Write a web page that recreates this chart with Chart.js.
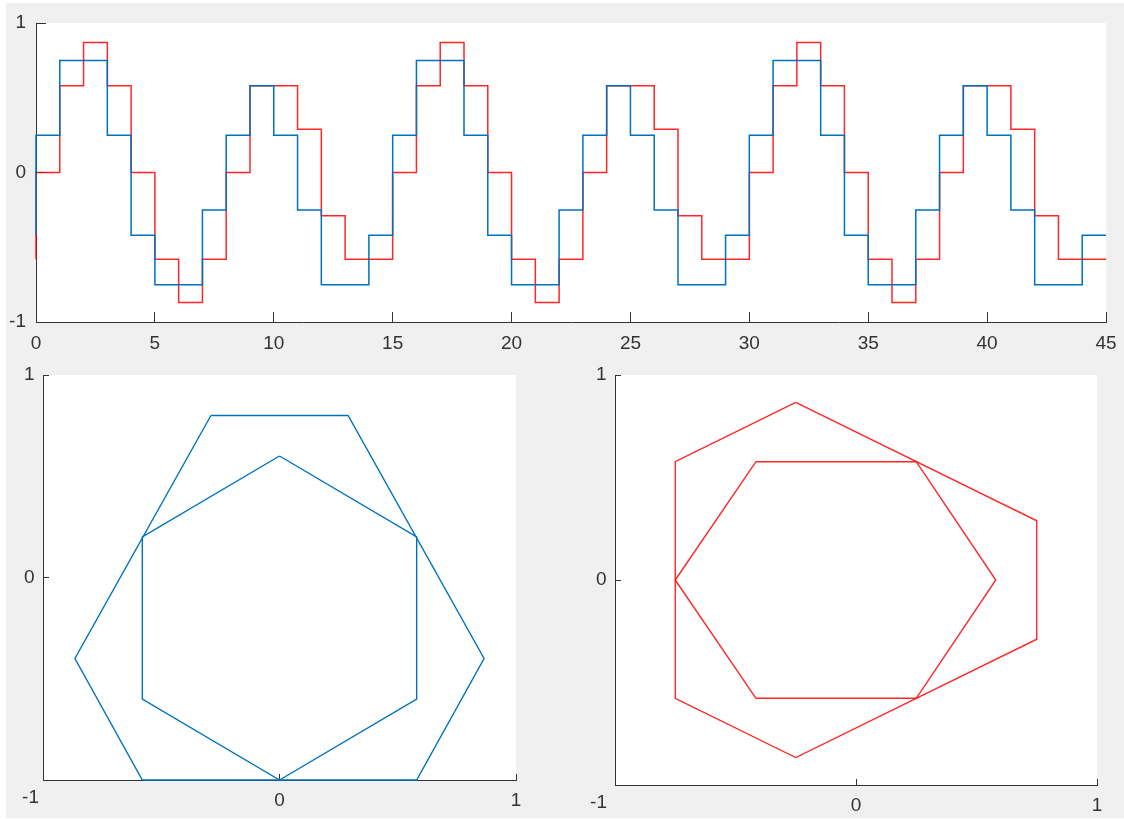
<!DOCTYPE html>
<html><head><meta charset="utf-8">
<script src="https://cdn.jsdelivr.net/npm/chart.js@4"></script>
<style>
html,body{margin:0;padding:0;background:#fff;width:1124px;height:819px;overflow:hidden;}
#fig{position:absolute;left:6px;top:3px;width:1118px;height:815px;background:#f0f0f0;}
canvas{position:absolute;}
</style></head><body>
<div id="fig"></div>
<canvas id="c1" width="1124" height="360" style="left:0;top:0"></canvas>
<canvas id="c2" width="562" height="459" style="left:0;top:360px"></canvas>
<canvas id="c3" width="562" height="459" style="left:562px;top:360px"></canvas>
<script>
// ---- data: stairs (value at x[i] holds until x[i+1]) ----
const stairX = [0,0,1,2,3,4,5,6,7,8,9,10,11,12,13,14,15,16,17,18,19,20,21,22,23,24,25,26,27,28,29,30,31,32,33,34,35,36,37,38,39,40,41,42,43,44,45];
const blueStairs = [-0.42,
  0.25,0.75,0.75,0.25,-0.42,-0.75,-0.75,-0.25,0.25,0.58,0.25,-0.25,-0.75,-0.75,-0.42,
  0.25,0.75,0.75,0.25,-0.42,-0.75,-0.75,-0.25,0.25,0.58,0.25,-0.25,-0.75,-0.75,-0.42,
  0.25,0.75,0.75,0.25,-0.42,-0.75,-0.75,-0.25,0.25,0.58,0.25,-0.25,-0.75,-0.75,-0.42,
  -0.42];
const redStairs = [-0.58,
  0,0.58,0.87,0.58,0,-0.58,-0.87,-0.58,0,0.58,0.58,0.29,-0.29,-0.58,-0.58,
  0,0.58,0.87,0.58,0,-0.58,-0.87,-0.58,0,0.58,0.58,0.29,-0.29,-0.58,-0.58,
  0,0.58,0.87,0.58,0,-0.58,-0.87,-0.58,0,0.58,0.58,0.29,-0.29,-0.58,-0.58,
  -0.58];
const topXTicks = [0,5,10,15,20,25,30,35,40,45];
const unitTicks = [-1,0,1];

// ---- data: hexagons (closed polylines) ----
const blueOuterX = [-0.29, 0.29, 0.865, 0.58, -0.58, -0.865, -0.29];
const blueOuterY = [0.80, 0.80, -0.40, -1.00, -1.00, -0.40, 0.80];
const blueInnerX = [0, 0.58, 0.58, 0, -0.58, -0.58, 0];
const blueInnerY = [0.60, 0.20, -0.60, -1.00, -0.60, 0.20, 0.60];
const redOuterX = [-0.25, 0.75, 0.75, -0.25, -0.75, -0.75, -0.25];
const redOuterY = [0.866, 0.289, -0.289, -0.866, -0.577, 0.577, 0.866];
const redInnerX = [-0.75, -0.415, 0.25, 0.58, 0.25, -0.415, -0.75];
const redInnerY = [0, 0.577, 0.577, 0, -0.577, -0.577, 0];

const BLUE = '#0072bd', RED = 'rgba(255,0,0,0.85)', AX = '#333333';
const FONT = {family: "'Liberation Sans', Arial, sans-serif", size: 19};

function pts(xs, ys) { return xs.map((x, i) => ({x: x, y: ys[i]})); }

const whiteArea = {
  id: 'whiteArea',
  beforeDraw(chart) {
    const a = chart.chartArea, c = chart.ctx;
    c.save(); c.fillStyle = '#ffffff';
    c.fillRect(a.left, a.top, a.right - a.left, a.bottom - a.top);
    c.restore();
  }
};
function cornerLabel(offX) {
  return {
    id: 'cornerLabel',
    afterDraw(chart) {
      const xs = chart.scales.x, c = chart.ctx;
      c.save(); c.fillStyle = AX;
      c.font = FONT.size + 'px ' + FONT.family;
      c.textAlign = 'right'; c.textBaseline = 'middle';
      c.fillText(String(unitTicks[0]), xs.left - offX, xs.top + 18);
      c.restore();
    }
  };
}

function axis(opts) {
  return {
    type: 'linear', min: opts.min, max: opts.max,
    afterBuildTicks: s => { s.ticks = opts.ticks.map(v => ({value: v})); },
    afterFit: s => {
      if (opts.w !== undefined) s.width = opts.w;
      if (opts.h !== undefined) s.height = opts.h;
      s.paddingTop = 0; s.paddingBottom = 0; s.paddingLeft = 0; s.paddingRight = 0;
    },
    ticks: {font: FONT, color: AX, padding: opts.pad, autoSkip: false, maxRotation: 0,
            callback: opts.cb || (v => String(v))},
    grid: {drawOnChartArea: false, tickLength: -opts.tl, tickColor: AX, tickWidth: 1},
    border: {color: AX, width: 1}
  };
}

const common = {
  responsive: false, animation: false, events: [],
  plugins: {legend: {display: false}, tooltip: {enabled: false}},
  elements: {point: {radius: 0}, line: {tension: 0}}
};

new Chart(document.getElementById('c1'), {
  type: 'scatter',
  data: {datasets: [
    {data: pts(stairX, blueStairs), showLine: true, stepped: 'before', borderColor: BLUE, borderWidth: 1.5, clip: false},
    {data: pts(stairX, redStairs), showLine: true, stepped: 'before', borderColor: RED, borderWidth: 1.5, clip: false}
  ]},
  options: Object.assign({}, common, {
    layout: {padding: {top: 23, right: 18, left: 0, bottom: 0}},
    scales: {
      x: axis({min: 0, max: 45, ticks: topXTicks, h: 38, pad: 20.6, tl: 10}),
      y: axis({min: -1, max: 1, ticks: unitTicks, w: 36, pad: 20, tl: 10})
    }
  }),
  plugins: [whiteArea]
});

const hideMin = v => (v === unitTicks[0] ? '' : String(v));

new Chart(document.getElementById('c2'), {
  type: 'scatter',
  data: {datasets: [
    {data: pts(blueOuterX, blueOuterY), showLine: true, borderColor: BLUE, borderWidth: 1.4, clip: false},
    {data: pts(blueInnerX, blueInnerY), showLine: true, borderColor: BLUE, borderWidth: 1.4, clip: false}
  ]},
  options: Object.assign({}, common, {
    layout: {padding: {top: 15, right: 46, left: 0, bottom: 0}},
    scales: {
      x: axis({min: -1, max: 1, ticks: unitTicks, h: 39, pad: 15.6, tl: 6, cb: hideMin}),
      y: axis({min: -1, max: 1, ticks: unitTicks, w: 43, pad: 14.5, tl: 6, cb: hideMin})
    }
  }),
  plugins: [whiteArea, cornerLabel(4)]
});

new Chart(document.getElementById('c3'), {
  type: 'scatter',
  data: {datasets: [
    {data: pts(redOuterX, redOuterY), showLine: true, borderColor: RED, borderWidth: 1.4, clip: false},
    {data: pts(redInnerX, redInnerY), showLine: true, borderColor: RED, borderWidth: 1.4, clip: false}
  ]},
  options: Object.assign({}, common, {
    layout: {padding: {top: 15, right: 27, left: 0, bottom: 0}},
    scales: {
      x: axis({min: -1, max: 1, ticks: unitTicks, h: 34, pad: 15.6, tl: 6, cb: hideMin}),
      y: axis({min: -1, max: 1, ticks: unitTicks, w: 53, pad: 14.5, tl: 6, cb: hideMin})
    }
  }),
  plugins: [whiteArea, cornerLabel(8)]
});
</script>
</body></html>
